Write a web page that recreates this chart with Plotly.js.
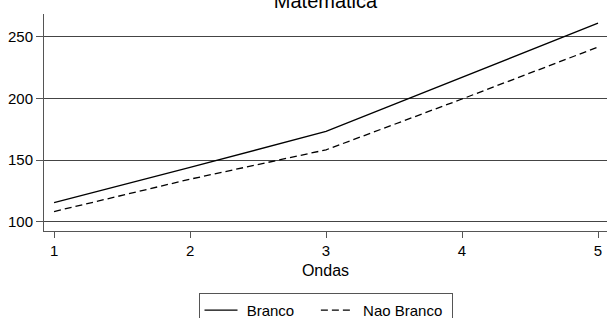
<!DOCTYPE html>
<html>
<head>
<meta charset="utf-8">
<script src="https://cdn.plot.ly/plotly-3.0.1.min.js"></script>
<style>html,body{margin:0;padding:0;background:#fff;}#chart{width:607px;height:318px;}</style>
</head>
<body>
<div id="chart"></div>
<script>
var ondas = [1, 2, 3, 4, 5];
var branco = [115.5, 144, 173.2, 217, 261];
var naoBranco = [108.3, 134.5, 158.3, 199.5, 241.6];
var yTicks = [100, 150, 200, 250];
var xTicks = [1, 2, 3, 4, 5];
var seriesNames = ['Branco', 'Nao Branco'];

var font = "Arial, 'Liberation Sans', sans-serif";
var NB = '\u00a0';
var traces = [
  {x: ondas, y: branco, type: 'scatter', mode: 'lines', name: NB + seriesNames[0] + NB + NB + NB + NB,
   line: {color: '#000', width: 1.3}},
  {x: ondas, y: naoBranco, type: 'scatter', mode: 'lines', name: NB + seriesNames[1] + NB,
   line: {color: '#000', width: 1.3, dash: '7px,4px'}}
];
var layout = {
  width: 607, height: 318,
  margin: {l: 44, r: 0, t: 14, b: 87},
  paper_bgcolor: '#fff', plot_bgcolor: '#fff',
  font: {family: font, color: '#000', size: 15},
  title: {text: 'Matematica', font: {size: 20, family: font, color: '#000'},
          x: 0.5, xref: 'paper', xanchor: 'center', y: 0.996, yref: 'container', yanchor: 'middle'},
  xaxis: {range: [0.926, 5.066], tickvals: xTicks, ticks: 'outside', ticklen: 6, tickcolor: '#555',
          showline: true, linecolor: '#555', linewidth: 1, showgrid: false, zeroline: false,
          tickfont: {size: 15}, title: {text: 'Ondas', font: {size: 16}, standoff: 6}},
  yaxis: {range: [92.5, 268.4], tickvals: yTicks, ticks: 'outside', ticklen: 7, tickcolor: '#555',
          showline: true, linecolor: '#555', linewidth: 1, showgrid: true, gridcolor: '#444', gridwidth: 1,
          zeroline: false, tickfont: {size: 15}},
  showlegend: true,
  legend: {orientation: 'h', x: 0.5, xanchor: 'center', xref: 'paper', y: 0.079, yref: 'container', yanchor: 'top',
           bordercolor: '#555', borderwidth: 1, bgcolor: '#fff', font: {size: 15},
           itemwidth: 33}
};
Plotly.newPlot('chart', traces, layout, {displayModeBar: false, staticPlot: true});
</script>
</body>
</html>
